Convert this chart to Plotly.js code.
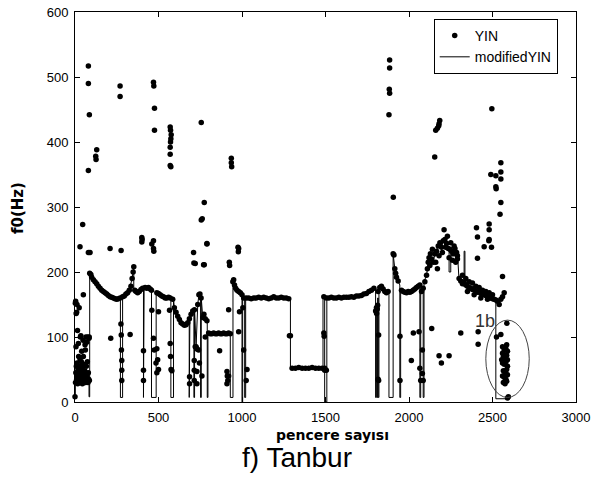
<!DOCTYPE html>
<html>
<head>
<meta charset="utf-8">
<script src="https://cdn.plot.ly/plotly-3.0.1.min.js"></script>
<style>html,body{margin:0;padding:0;background:#fff;}#chart{width:599px;height:479px;}</style>
</head>
<body>
<div id="chart"></div>
<script>
// ---- data (frame index, f0 in Hz) ----
// YIN points: dense cluster at the start
const leftF = [0,3,5,8,10,12,14,16,18,20, 22,24,26,28,30,32,34,36,38,40, 42,44,46,48,50,52,54,56,58,60,
  62,64,66,68,70,72,74,76,78,80, 82,84,86,6,20,40,60,70,50,30, 15,10,25,4,2,7,12,35,65,85];
const leftV = [8,30,45,55,35,60,40,28,50,33, 70,45,30,55,38,100,48,30,62,35, 52,28,42,95,33,58,40,30,48,36,
  80,30,45,55,33,40,62,100,30,45, 35,98,33,85,90,78,88,92,70,65, 110,138,145,155,152,136,150,102,100,100];

// YIN points along the main pitch contour
const contF = [88,95,100,110,120,130,140,150,160,170, 180,190,200,210,220,230,240,250,260,270,
  285,295,305,315,325,335,342,348,352,358, 365,375,385,395,405,420,430,440,450,458,
  490,500,510,520,530,540,550,560,570,585, 595,605,615,625,635,645,655,665,675,685,
  695,705,715,725,735,742,748,755,765,772, 780,790,800,810,820,830,840,850,860,870,
  880,890,900,910,920,930,945,950,955,962, 970,980,990,1000,1010,1025,1040,1055,1070,1085,
  1100,1115,1130,1145,1160,1175,1190,1205,1220,1235, 1250,1265,1280,1290,1300,1320,1340,1360,1380,1400,
  1420,1440,1460,1480,1495,1505,1520,1535,1550,1565, 1580,1595,1610,1625,1640,1655,1670,1685,1700,1715,
  1730,1745,1760,1775,1790,1800,1805,1815,1825,1835, 1845,1855,1865,1875,1905,1910,1915,1920,1925,1935,
  1955,1965,1975,1985,1995,2005,2015,2025,2035,2045, 2055,2065,2075,2085,2095,2105,2110,2115,2120,2128,
  2135,2145,2155,2165,2175,2185,2195,2205,2215,2225, 2235,2245,2255,2265,2275,2285,2290,2300,2310,2320,
  2330,2340,2350,2360,2370,2380,2390,2400,2410,2420, 2430,2440,2450,2460,2470,2480,2490,2500,2510,2520,
  2530,2540,2550,2560,2570];
const contV = [198,196,192,188,185,182,178,175,172,170, 168,166,164,162,161,160,159,158,159,160,
  162,163,166,168,172,178,190,200,208,172, 170,168,170,173,175,176,175,176,174,172,
  168,167,165,163,162,160,160,161,160,158, 145,138,132,127,122,120,118,119,122,128,
  135,140,142,85,150,165,166,160,130,135, 128,125,106,105,105,106,105,105,106,105,
  105,106,105,105,106,105,185,188,180,175, 172,170,168,165,160,160,160,159,160,160,
  161,160,161,160,159,160,162,160,160,161, 160,160,159,102,52,52,53,52,52,52,
  53,52,52,52,52,160,160,161,160,160, 161,160,161,161,161,162,161,163,163,164,
  166,167,170,172,175,140,145,170,176,178, 174,170,168,170,228,226,205,198,192,186,
  172,170,169,168,170,169,170,172,174,176, 178,180,170,175,185,195,205,215,222,228,
  220,215,228,232,240,245,238,248,250,244, 236,235,232,228,236,230,225,190,186,182,
  184,180,178,176,175,173,174,170,169,170, 167,166,165,164,163,162,160,159,158,157,
  155,150,158,162,168];

// YIN points away from the contour (octave errors, dropouts, etc.)
const outF = [80,80,86,80,130,124,126,46,270,270, 470,472,476,476,570,572,576,574,572,570,
  570,570,574,756,774,756,762,936,936,938, 1884,1884,1882,1884,1880,1906,2154,2160,2170,2178,
  2184,2180,2496,2550,2550,2490,2520,2550,2520,2522, 2550,2545,2480,2404,2480,2210,2410,2450,2478,2480,
  2494,2410,2560,
  30,80,90,210,276,400,402,400,460,470, 470,472,710,712,720,774,790,790,924,926, 976,978,980,770,985,1005,
  50,214,330,275,277,278,280,280,280,410, 410,410,460,500,470,475,490,495,485,500,
  490,566,570,572,575,580,686,686,714,714, 714,720,728,730,730,730,740,745,760,780,
  866,920,910,912,915,910,920,980,1010,1030, 1025,1284,1490,1490,1492,1495,1505,1806,1810,1812,
  1818,1815,1818,1946,1946,2026,2014,2060,2065,2080, 2080,2070,2085,2136,2180,2194,2240,2310,2414,2414,
  2524,2550,2586,
  2560,2570,2580,2590,2565,2575,2585,2560,2570,2580, 2590,2565,2575,2585,2560,2570,2580,2590,2565,2575,
  2585,2590,2595,2560,2585,2555,2590,
  2320,2340,2360,2380,2400,2420,2440,2460,2480,2500, 2350,2390,2430,2470,2160,2180,2200,2220,2240,2260,
  2280,2230,2170,2250,2270,2290,2140,2125];
const outV = [517,490,442,356,388,378,373,273,486,470, 492,486,452,418,423,418,411,405,400,392,
  381,364,362,430,307,280,282,375,368,362, 526,514,481,475,442,315,377,418,421,425,
  433,428,451,368,354,350,348,343,331,328, 307,289,274,268,265,265,254,239,248,250,
  238,221,193,
  239,230,230,236,233,246,250,253,243,248, 236,232,230,214,213,211,243,244,215,210, 238,231,236,211,139,145,
  165,98,104,120,103,80,64,49,33,79, 49,33,141,139,98,80,82,65,60,50,
  45,141,90,70,50,48,39,28,64,49, 33,85,82,82,47,28,80,60,40,100,
  79,142,47,40,33,28,40,108,80,50, 33,102,162,106,101,49,49,136,143,149,
  103,35,33,101,33,106,64,108,52,80, 44,33,33,113,71,60,71,106,108,89,
  100,104,121,
  85,80,82,78,70,68,72,60,58,62, 55,48,45,50,40,38,35,42,30,28,
  32,6,8,75,88,65,65,
  195,190,185,183,178,176,172,170,168,165, 170,165,160,158,215,225,230,238,222,218,
  215,255,205,245,240,220,235,210];

// modifiedYIN line vertices
const lineF = [0,2,2,84,84,88,88,100,120,140, 160,180,200,220,240,260,272,272,285,285,
  305,325,342,352,352,375,395,410,410,414, 414,440,458,458,486,486,510,540,574,574,
  590,590,595,615,635,655,675,684,684,688, 688,705,712,712,716,716,725,735,742,748,
  752,752,756,756,765,780,792,792,796,796, 930,930,946,946,955,970,990,1000,1000,1004,
  1004,1016,1016,1022,1022,1290,1290,1485,1485,1495, 1495,1508,1508,1600,1700,1760,1800,1800,1804,1804,
  1808,1808,1812,1812,1816,1816,1820,1820,1835,1855, 1880,1880,1905,1905,1915,1935,1945,1945,1950,1950,
  1985,2025,2065,2065,2070,2070,2085,2085,2090,2090, 2105,2120,2135,2145,2155,2175,2185,2195,2205,2215,
  2225,2240,2240,2250,2250,2270,2290,2300,2330,2330, 2335,2335,2360,2400,2440,2480,2520,2520,2600];
const lineV = [8,8,35,35,8,8,198,192,185,178, 172,168,164,161,159,159,160,7,7,162,
  166,172,190,208,172,168,173,175,7,7, 175,176,172,7,7,168,165,160,160,7,
  7,158,145,132,122,118,122,126,7,7, 130,140,141,7,7,142,85,150,165,166,
  165,7,7,160,130,128,125,7,7,106, 105,7,7,185,180,172,168,165,0,0,
  160,160,7,7,160,160,52,52,160,160, 0,0,160,161,163,170,175,7,7,150,
  150,7,7,160,160,7,7,172,178,170, 170,7,7,228,205,186,180,7,7,172,
  168,172,178,7,7,175,175,7,7,185, 195,222,220,215,228,240,245,238,248,250,
  244,236,200,200,235,230,230,186,184,232, 232,182,176,170,166,162,158,5,5];

const xTicks = [0,500,1000,1500,2000,2500,3000];
const yTicks = [0,100,200,300,400,500,600];

const yinF = leftF.concat(contF, outF);
const yinV = leftV.concat(contV, outV);

const traces = [
  {type:'scatter', mode:'lines', name:'modifiedYIN', x:lineF, y:lineV,
   line:{color:'#000', width:1}, legendrank:2, cliponaxis:true},
  {type:'scatter', mode:'markers', name:'YIN', x:yinF, y:yinV,
   marker:{color:'#000', size:5.5, symbol:'circle'}, legendrank:1, cliponaxis:false}
];

const axisCommon = {
  ticks:'inside', ticklen:5, tickwidth:1, tickcolor:'#000',
  showline:true, linecolor:'#000', linewidth:1, mirror:'ticks',
  showgrid:false, zeroline:false, ticklabelstandoff:3,
  tickfont:{family:'Arial, "Liberation Sans", sans-serif', size:13, color:'#000'}
};

const layout = {
  width:599, height:479,
  margin:{l:75, r:23, t:12, b:77},
  paper_bgcolor:'#fff', plot_bgcolor:'#fff',
  showlegend:true,
  legend:{x:0.716, y:0.982, xanchor:'left', yanchor:'top',
    bgcolor:'#fff', bordercolor:'#000', borderwidth:1,
    font:{family:'Arial, "Liberation Sans", sans-serif', size:14, color:'#000'}},
  xaxis:Object.assign({range:[0,3000], tickmode:'array', tickvals:xTicks, ticktext:xTicks.map(String)}, axisCommon),
  yaxis:Object.assign({range:[0,600], tickmode:'array', tickvals:yTicks, ticktext:yTicks.map(String)}, axisCommon),
  shapes:[{type:'circle', xref:'x', yref:'y', x0:2460, x1:2720, y0:7, y1:126,
    line:{color:'#444', width:1}}],
  annotations:[
    {text:'1b', xref:'x', yref:'y', x:2454, y:124, showarrow:false,
     font:{family:'Arial, "Liberation Sans", sans-serif', size:18, color:'#333'}},
    {text:'<b>pencere sayısı</b>', xref:'paper', yref:'paper', x:(332.5-75)/501, y:-(435.5-402)/390,
     xanchor:'center', yanchor:'middle', showarrow:false,
     font:{family:'"DejaVu Sans", sans-serif', size:14, color:'#000'}},
    {text:'<b>f0(Hz)</b>', xref:'paper', yref:'paper', x:(18-75)/501, y:(402-208)/390,
     xanchor:'center', yanchor:'middle', textangle:-90, showarrow:false,
     font:{family:'"DejaVu Sans", sans-serif', size:15, color:'#000'}},
    {text:'f) Tanbur', xref:'paper', yref:'paper', x:(297-75)/501, y:-(457-402)/390,
     xanchor:'center', yanchor:'middle', showarrow:false,
     font:{family:'Arial, "Liberation Sans", sans-serif', size:28, color:'#000'}}
  ]
};

Plotly.newPlot('chart', traces, layout, {displayModeBar:false, staticPlot:true});
</script>
</body>
</html>
